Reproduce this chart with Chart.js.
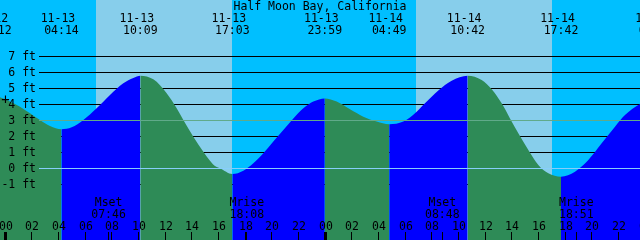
<!DOCTYPE html>
<html lang="en">
<head>
  <meta charset="UTF-8" />
  <title>Half Moon Bay, California</title>
  <script src="https://cdn.jsdelivr.net/npm/chart.js"></script>
  <style>
    body {
      margin: 0;
      background: #fff;
    }

    #tideChart {
      display: block;
    }
  </style>
</head>
<body>
  <canvas id="tideChart" width="640" height="240"></canvas>

  <script>
    const stationName = 'Half Moon Bay, California';

    // high and low tides
    const tideDates = ['11-12', '11-13', '11-13', '11-13', '11-13', '11-14', '11-14', '11-14', '11-15'];
    const tideTimes = ['23:12', '04:14', '10:09', '17:03', '23:59', '04:49', '10:42', '17:42', '00:50'];
    const tideLevels = [4.5, 2.42, 5.77, -0.38, 4.35, 2.73, 5.77, -0.54, 4.3];

    // water level (hours from 11-13 00:00, ft)
    const curveHours = [-0.375, 1.125, 1.875, 2.625, 3.375, 5.0, 5.875, 6.875, 7.875, 8.875, 9.625,
      11.125, 12.125, 12.875, 13.375, 14.125, 14.875, 15.375, 15.75, 16.125,
      17.875, 18.625, 19.375, 20.125, 20.875, 21.625, 22.375, 23.125,
      24.875, 25.875, 26.875, 27.875, 29.875, 30.875, 31.5, 32.5, 33.5,
      35.75, 36.5, 37.25, 37.875, 38.5, 39.25, 40.0, 40.75,
      42.75, 43.75, 44.75, 45.75, 46.5, 47.625];
    const curveFeet = [4.42, 3.83, 3.42, 3.0, 2.62, 2.54, 3.0, 3.73, 4.56, 5.29, 5.62,
      5.54, 4.67, 3.73, 3.0, 1.96, 1.02, 0.46, 0.12, -0.02,
      -0.17, 0.29, 0.92, 1.65, 2.375, 3.1, 3.73, 4.15,
      4.15, 3.67, 3.21, 2.9, 2.9, 3.52, 4.04, 4.85, 5.46,
      5.5, 4.92, 4.04, 3.1, 2.17, 1.125, 0.19, -0.33,
      -0.23, 0.5, 1.54, 2.58, 3.31, 4.0];

    const sunriseTimes = ['11-13 06:50', '11-14 06:50'];
    const sunsetTimes = ['11-13 17:02', '11-14 17:02'];

    const moonNames = ['Mset', 'Mrise', 'Mset', 'Mrise'];
    const moonDates = ['11-13', '11-13', '11-14', '11-14'];
    const moonTimes = ['07:46', '18:08', '08:48', '18:51'];

    const hourTicks = [0, 2, 4, 6, 8, 10, 12, 14, 16, 18, 20, 22, 24, 26, 28, 30, 32, 34, 36, 38, 40, 42, 44, 46, 48];
    const depthTicks = [7, 6, 5, 4, 3, 2, 1, 0, -1];
    const meanSeaLevel = 3;
    const datumLevel = 0;
    const markHour = 0;
    const markFeet = 4.2;

    const nightSky = '#00bfff';
    const daySky = '#87ceeb';
    const floodColor = '#0000ff';
    const ebbColor = '#2e8b57';
    const mslColor = '#60aa8a';
    const datumColor = '#87cefa';
    const font = '11.5px "DejaVu Sans Mono", monospace';
    const gridLeft = 39;

    const dayOffset = { '11-12': -24, '11-13': 0, '11-14': 24, '11-15': 48 };

    function toHours(date, time) {
      const [hh, mm] = time.split(':').map(Number);
      return dayOffset[date] + hh + mm / 60;
    }

    function stamp(s) {
      const [date, time] = s.split(' ');
      return toHours(date, time);
    }

    const tideHours = tideDates.map((d, i) => toHours(d, tideTimes[i]));

    const points = curveHours.map((h, i) => ({ x: h, y: curveFeet[i] }))
      .concat(tideHours.map((h, i) => ({ x: h, y: tideLevels[i] })))
      .sort((a, b) => a.x - b.x);

    const tideDecor = {
      id: 'tideDecor',
      beforeDatasetsDraw(chart) {
        const { ctx, chartArea: a, scales: { x, y } } = chart;
        ctx.save();
        ctx.fillStyle = nightSky;
        ctx.fillRect(a.left, a.top, a.right - a.left, a.bottom - a.top);

        ctx.fillStyle = daySky;
        sunriseTimes.forEach((t, i) => {
          const x0 = Math.round(x.getPixelForValue(stamp(t)));
          const x1 = Math.round(x.getPixelForValue(stamp(sunsetTimes[i])));
          ctx.fillRect(x0, a.top, x1 - x0, a.bottom - a.top);
        });

        ctx.fillStyle = '#000';
        depthTicks.forEach(d => {
          ctx.fillRect(gridLeft, Math.round(y.getPixelForValue(d)), a.right - gridLeft, 1);
        });
        ctx.restore();
      },
      afterDatasetsDraw(chart) {
        const { ctx, chartArea: a, scales: { x, y } } = chart;
        ctx.save();

        ctx.fillStyle = mslColor;
        ctx.fillRect(gridLeft, Math.round(y.getPixelForValue(meanSeaLevel)), a.right - gridLeft, 1);
        ctx.fillStyle = datumColor;
        ctx.fillRect(gridLeft, Math.round(y.getPixelForValue(datumLevel)), a.right - gridLeft, 1);

        ctx.fillStyle = '#000';
        ctx.font = font;
        ctx.textBaseline = 'alphabetic';

        // title
        ctx.textAlign = 'center';
        ctx.fillText(stationName, (a.left + a.right) / 2, 10);

        // depth labels
        ctx.textAlign = 'right';
        depthTicks.forEach(d => {
          ctx.fillText(d + ' ft', 36, Math.round(y.getPixelForValue(d)) + 4);
        });

        // high / low labels
        ctx.textAlign = 'center';
        tideHours.forEach((h, i) => {
          const px = x.getPixelForValue(h);
          ctx.fillText(tideDates[i], px - 3.5, 22);
          ctx.fillText(tideTimes[i], px, 34);
        });

        // moon labels and ticks
        moonNames.forEach((name, i) => {
          const px = x.getPixelForValue(toHours(moonDates[i], moonTimes[i]));
          ctx.fillText(name, px, 206);
          ctx.fillText(moonTimes[i], px, 217.5);
          ctx.fillRect(Math.floor(px), 232, 1, 8);
        });

        // hour ticks
        hourTicks.forEach(h => {
          const px = x.getPixelForValue(h);
          const col = Math.floor(px);
          if (h % 24 === 0) {
            ctx.fillRect(col - 1, 232, 3, 8);
          } else {
            ctx.fillRect(col, 232, 1, 8);
          }
          ctx.fillText(String(h % 24).padStart(2, '0'), col + 1, 230);
        });

        // marker
        ctx.font = '14px "DejaVu Sans Mono", monospace';
        ctx.textBaseline = 'middle';
        ctx.fillText('+', x.getPixelForValue(markHour) + 0.5, y.getPixelForValue(markFeet));

        ctx.restore();
      }
    };

    new Chart(document.getElementById('tideChart').getContext('2d'), {
      type: 'line',
      data: {
        datasets: [{
          label: 'Tide (ft)',
          data: points,
          borderColor: 'rgba(0,0,0,0)',
          borderWidth: 0,
          backgroundColor: ebbColor,
          fill: 'start',
          tension: 0.4,
          cubicInterpolationMode: 'monotone',
          pointRadius: 0,
          segment: {
            backgroundColor: c => c.p1.parsed.y > c.p0.parsed.y ? floodColor : ebbColor
          }
        }]
      },
      options: {
        responsive: false,
        animation: false,
        devicePixelRatio: 1,
        layout: { padding: 0 },
        plugins: {
          legend: { display: false },
          tooltip: { enabled: false },
          title: { display: false }
        },
        scales: {
          x: { type: 'linear', min: -0.375, max: 47.625, display: false },
          y: { min: -4.5, max: 10.5, display: false }
        }
      },
      plugins: [tideDecor]
    });
  </script>
</body>
</html>
